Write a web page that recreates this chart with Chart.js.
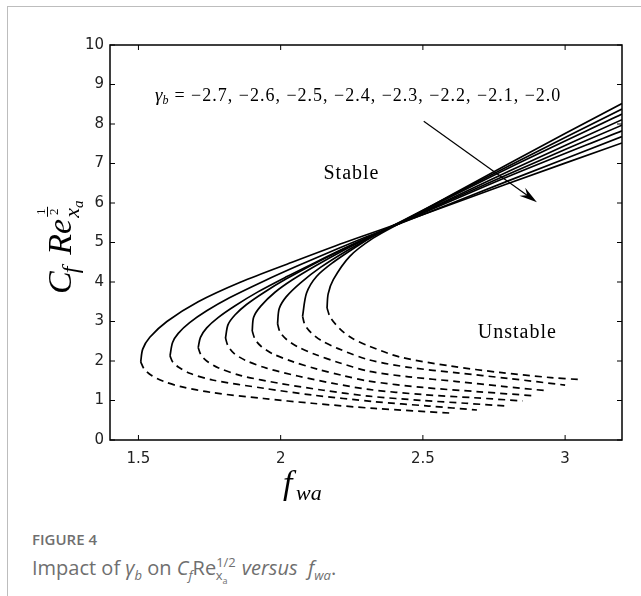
<!DOCTYPE html>
<html>
<head>
<meta charset="utf-8">
<script src="https://cdn.jsdelivr.net/npm/chart.js@4.4.0/dist/chart.umd.min.js"></script>
<style>
  html, body { margin: 0; padding: 0; background: #fff; }
  body { width: 641px; height: 596px; overflow: hidden; position: relative; }
  .frame { position: absolute; left: 7px; top: 6px; right: 0; bottom: 0; border-top: 1px solid #bdbdbd; border-left: 1px solid #bdbdbd; }
  #wrap { position: absolute; left: 0; top: 0; width: 641px; height: 510px; }
  .caption { position: absolute; left: 32px; top: 530px; font-family: "Open Sans", sans-serif; color: #6f6f6f; }
  .caption .num { font-size: 15px; font-weight: 600; line-height: 19px; }
  .caption .txt { font-size: 20px; line-height: 26px; }
  .caption sub, .caption sup { font-size: 13px; }
  .caption sub sub { font-size: 9px; }
</style>
</head>
<body>
<div class="frame"></div>
<div id="wrap"><canvas id="cfChart"></canvas></div>
<div class="caption">
  <div class="num">FIGURE 4</div>
  <div class="txt">Impact of <i>γ</i><sub><i>b</i></sub> on <i>C</i><sub><i>f</i></sub>Re<sup>1/2</sup><sub style="margin-left:-20px; margin-right:9px">x<sub>a</sub></sub> <i>versus</i>&nbsp; <i>f</i><sub><i>wa</i></sub>.</div>
</div>
<script>
// gamma_b values, one curve each
const gammas = [-2.7, -2.6, -2.5, -2.4, -2.3, -2.2, -2.1, -2.0];

// upper (stable) branches: nose -> right edge
const stableFwa = [
  [2.163, 2.167, 2.185, 2.243, 2.325, 2.419, 2.8, 3.2],
  [2.077, 2.091, 2.126, 2.185, 2.267, 2.34, 2.42, 2.8, 3.2],
  [1.989, 1.995, 2.02, 2.07, 2.14, 2.23, 2.32, 2.42, 2.8, 3.2],
  [1.9, 1.905, 1.93, 1.98, 2.04, 2.12, 2.22, 2.32, 2.42, 2.8, 3.2],
  [1.806, 1.815, 1.84, 1.88, 1.94, 2.02, 2.12, 2.22, 2.32, 2.42, 2.8, 3.2],
  [1.71, 1.718, 1.74, 1.78, 1.84, 1.92, 2.02, 2.12, 2.22, 2.32, 2.42, 2.8, 3.2],
  [1.611, 1.62, 1.64, 1.68, 1.74, 1.82, 1.94, 2.06, 2.2, 2.3, 2.42, 2.8, 3.2],
  [1.508, 1.515, 1.54, 1.6, 1.71, 1.86, 2.04, 2.225, 2.41, 2.79, 3.2]
];
const stableCf = [
  [3.34, 3.7, 4.06, 4.65, 5.11, 5.49, 6.99, 8.52],
  [3.13, 3.72, 4.14, 4.5, 4.9, 5.22, 5.52, 6.93, 8.38],
  [2.94, 3.33, 3.63, 3.98, 4.37, 4.78, 5.14, 5.51, 6.88, 8.25],
  [2.76, 3.11, 3.39, 3.74, 4.05, 4.4, 4.8, 5.16, 5.5, 6.8, 8.11],
  [2.58, 2.92, 3.17, 3.43, 3.73, 4.08, 4.47, 4.83, 5.17, 5.5, 6.73, 7.97],
  [2.34, 2.6, 2.84, 3.1, 3.4, 3.75, 4.13, 4.49, 4.84, 5.17, 5.49, 6.67, 7.83],
  [2.13, 2.47, 2.7, 2.97, 3.27, 3.6, 4.02, 4.41, 4.84, 5.14, 5.48, 6.56, 7.68],
  [1.98, 2.3, 2.6, 3.0, 3.5, 4.0, 4.5, 5.0, 5.47, 6.47, 7.52]
];

// lower (unstable) branches: nose -> end of dashed line
const unstableFwa = [
  [2.163, 2.175, 2.21, 2.25, 2.31, 2.42, 2.6, 2.77, 2.95, 3.05],
  [2.077, 2.085, 2.105, 2.14, 2.2, 2.31, 2.45, 2.62, 2.8, 3.0],
  [1.989, 1.998, 2.02, 2.06, 2.12, 2.2, 2.31, 2.45, 2.62, 2.78, 2.93],
  [1.9, 1.91, 1.93, 1.97, 2.04, 2.13, 2.22, 2.31, 2.5, 2.7, 2.89],
  [1.806, 1.815, 1.835, 1.875, 1.95, 2.06, 2.18, 2.31, 2.5, 2.68, 2.85],
  [1.71, 1.72, 1.74, 1.78, 1.86, 2.0, 2.15, 2.31, 2.5, 2.65, 2.79],
  [1.611, 1.62, 1.64, 1.68, 1.76, 1.94, 2.11, 2.33, 2.52, 2.69],
  [1.508, 1.52, 1.545, 1.59, 1.65, 1.76, 1.94, 2.11, 2.33, 2.6]
];
const unstableCf = [
  [3.34, 3.1, 2.8, 2.58, 2.38, 2.1, 1.87, 1.71, 1.58, 1.53],
  [3.13, 2.92, 2.73, 2.53, 2.32, 2.03, 1.84, 1.7, 1.56, 1.39],
  [2.94, 2.73, 2.55, 2.36, 2.17, 1.97, 1.74, 1.6, 1.48, 1.36, 1.25],
  [2.76, 2.55, 2.38, 2.19, 1.99, 1.79, 1.63, 1.49, 1.33, 1.22, 1.12],
  [2.58, 2.38, 2.2, 2.02, 1.82, 1.62, 1.44, 1.28, 1.15, 1.07, 0.99],
  [2.34, 2.15, 2.0, 1.83, 1.63, 1.43, 1.26, 1.11, 1.0, 0.93, 0.86],
  [2.13, 1.98, 1.85, 1.69, 1.52, 1.31, 1.14, 0.97, 0.86, 0.76],
  [1.98, 1.8, 1.64, 1.48, 1.35, 1.2, 1.05, 0.93, 0.8, 0.68]
];

const fwaTicks = [1.5, 2, 2.5, 3];
const cfTicks = [0, 1, 2, 3, 4, 5, 6, 7, 8, 9, 10];

// annotations, in data coordinates
const gammaLabelAt = [1.558, 8.59];
const stableAt = [2.249, 6.74];
const unstableAt = [2.832, 2.71];
const arrowFrom = [2.503, 8.07];
const arrowTo = [2.901, 6.02];

const serif = '"Liberation Serif", "DejaVu Serif", serif';

function toPoints(xs, ys) {
  return xs.map((v, i) => ({ x: v, y: ys[i] }));
}

const datasets = [];
gammas.forEach((g, i) => {
  datasets.push({
    label: "γb = " + g + " stable",
    data: toPoints(stableFwa[i], stableCf[i]),
    showLine: true,
    borderColor: "#000",
    borderWidth: 1.7,
    pointRadius: 0,
    tension: 0.3,
  });
  datasets.push({
    label: "γb = " + g + " unstable",
    data: toPoints(unstableFwa[i], unstableCf[i]),
    showLine: true,
    borderColor: "#000",
    borderWidth: 1.7,
    borderDash: [7, 5],
    pointRadius: 0,
    tension: 0.3,
  });
});

function line(ctx, x1, y1, x2, y2) {
  ctx.beginPath();
  ctx.moveTo(x1, y1);
  ctx.lineTo(x2, y2);
  ctx.stroke();
}

// frame, inward ticks, axis titles and text notes
const decor = {
  id: "decor",
  afterDraw(chart) {
    const { ctx, chartArea: a } = chart;
    const xs = chart.scales.x;
    const ys = chart.scales.y;
    ctx.save();
    ctx.strokeStyle = "#000";
    ctx.lineWidth = 1.5;
    ctx.strokeRect(a.left, a.top, a.right - a.left, a.bottom - a.top);

    ctx.lineWidth = 1;
    const len = 5;
    fwaTicks.forEach((v) => {
      const px = xs.getPixelForValue(v);
      line(ctx, px, a.bottom, px, a.bottom - len);
      line(ctx, px, a.top, px, a.top + len);
    });
    cfTicks.forEach((v) => {
      const py = ys.getPixelForValue(v);
      line(ctx, a.left, py, a.left + len, py);
      line(ctx, a.right, py, a.right - len, py);
    });

    ctx.fillStyle = "#000";
    ctx.textBaseline = "alphabetic";

    // gamma list
    let gx = xs.getPixelForValue(gammaLabelAt[0]);
    const gy = ys.getPixelForValue(gammaLabelAt[1]);
    ctx.font = "italic 19px " + serif;
    ctx.fillText("γ", gx, gy);
    gx += ctx.measureText("γ").width;
    ctx.font = "italic 12px " + serif;
    ctx.fillText("b", gx, gy + 3);
    gx += ctx.measureText("b").width + 6;
    ctx.font = "18px " + serif;
    ctx.letterSpacing = "1px";
    const values = gammas.map((g) => "−" + Math.abs(g).toFixed(1)).join(", ");
    ctx.fillText("= " + values, gx, gy);
    ctx.letterSpacing = "0px";

    // region labels
    ctx.textAlign = "center";
    ctx.textBaseline = "middle";
    ctx.font = "20px " + serif;
    ctx.letterSpacing = "1px";
    ctx.fillText("Stable", xs.getPixelForValue(stableAt[0]), ys.getPixelForValue(stableAt[1]));
    ctx.fillText("Unstable", xs.getPixelForValue(unstableAt[0]), ys.getPixelForValue(unstableAt[1]));
    ctx.letterSpacing = "0px";

    // arrow
    const x1 = xs.getPixelForValue(arrowFrom[0]);
    const y1 = ys.getPixelForValue(arrowFrom[1]);
    const x2 = xs.getPixelForValue(arrowTo[0]);
    const y2 = ys.getPixelForValue(arrowTo[1]);
    const ang = Math.atan2(y2 - y1, x2 - x1);
    ctx.lineWidth = 1.2;
    line(ctx, x1, y1, x2 - 10 * Math.cos(ang), y2 - 10 * Math.sin(ang));
    ctx.beginPath();
    ctx.moveTo(x2, y2);
    ctx.lineTo(x2 - 18 * Math.cos(ang) + 5 * Math.sin(ang), y2 - 18 * Math.sin(ang) - 5 * Math.cos(ang));
    ctx.lineTo(x2 - 12 * Math.cos(ang), y2 - 12 * Math.sin(ang));
    ctx.lineTo(x2 - 18 * Math.cos(ang) - 5 * Math.sin(ang), y2 - 18 * Math.sin(ang) + 5 * Math.cos(ang));
    ctx.closePath();
    ctx.fill();

    // x title: f_wa
    ctx.textAlign = "left";
    ctx.textBaseline = "alphabetic";
    ctx.font = "italic 34px " + serif;
    ctx.fillText("f", 283, 494);
    ctx.font = "italic 22px " + serif;
    ctx.fillText("wa", 296, 500);

    // y title: C_f Re_{x_a}^{1/2}, rotated
    ctx.translate(71, 294);
    ctx.rotate(-Math.PI / 2);
    let cx = 0;
    ctx.font = "italic 34px " + serif;
    ctx.fillText("C", cx, 0);
    cx += ctx.measureText("C").width - 2;
    ctx.font = "italic 24px " + serif;
    ctx.fillText("f", cx, 7);
    cx += ctx.measureText("f").width + 12;
    ctx.font = "italic 34px " + serif;
    ctx.fillText("Re", cx, 0);
    cx += ctx.measureText("Re").width + 1;
    ctx.font = "italic 22px " + serif;
    ctx.fillText("x", cx, 8);
    const xw = ctx.measureText("x").width;
    ctx.font = "italic 15px " + serif;
    ctx.fillText("a", cx + xw, 12);
    ctx.font = "13px " + serif;
    ctx.textAlign = "center";
    ctx.fillText("1", cx + 6, -26);
    ctx.fillText("2", cx + 6, -13);
    ctx.lineWidth = 1;
    line(ctx, cx + 1, -23.5, cx + 11, -23.5);
    ctx.restore();
  },
};

const cfCtx = document.getElementById("cfChart").getContext("2d");
const cfChart = new Chart(cfCtx, {
  type: "scatter",
  data: { datasets: datasets },
  options: {
    responsive: true,
    maintainAspectRatio: false,
    animation: false,
    layout: { padding: { left: 0, right: 19, top: 45, bottom: 0 } },
    plugins: {
      legend: { display: false },
      tooltip: { enabled: false },
      title: { display: false },
    },
    scales: {
      x: {
        type: "linear",
        min: 1.4,
        max: 3.2,
        grid: { display: false, drawTicks: false },
        border: { display: false },
        afterBuildTicks: (scale) => {
          scale.ticks = fwaTicks.map((v) => ({ value: v }));
        },
        afterFit: (scale) => {
          scale.height = 70;
        },
        ticks: {
          padding: 10,
          color: "#222",
          font: { family: "DejaVu Sans", size: 15 },
          callback: (v) => String(v),
        },
      },
      y: {
        type: "linear",
        min: 0,
        max: 10,
        grid: { display: false, drawTicks: false },
        border: { display: false },
        afterBuildTicks: (scale) => {
          scale.ticks = cfTicks.map((v) => ({ value: v }));
        },
        afterFit: (scale) => {
          scale.width = 110;
        },
        ticks: {
          padding: 6,
          color: "#222",
          font: { family: "DejaVu Sans", size: 15 },
          callback: (v) => String(v),
        },
      },
    },
  },
  plugins: [decor],
});
</script>
</body>
</html>
